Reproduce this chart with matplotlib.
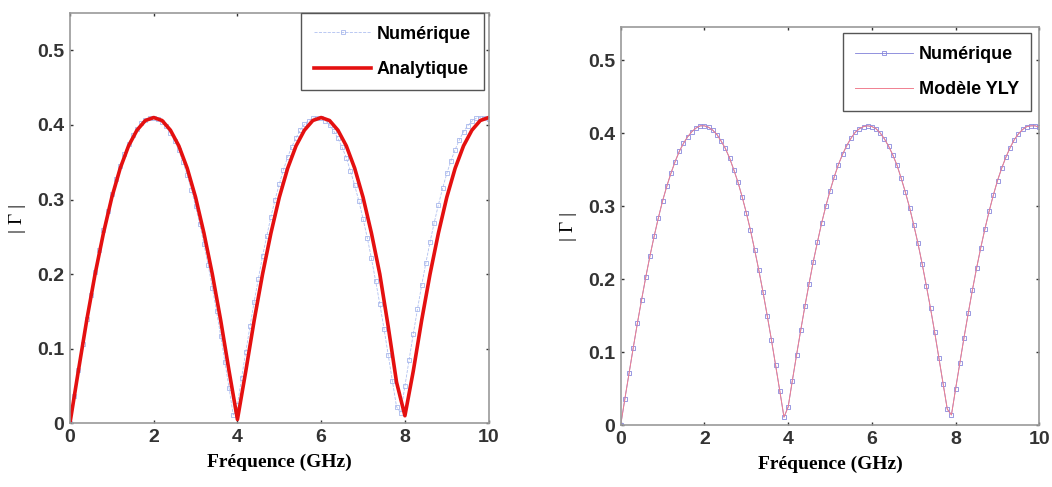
import numpy as np
import matplotlib
matplotlib.use("Agg")
from matplotlib import pyplot as plt

f_num = np.arange(0, 101) / 10.0
g_num = [0.000, 0.036, 0.071, 0.106, 0.140, 0.172, 0.203, 0.232, 0.259, 0.284,
         0.307, 0.327, 0.345, 0.361, 0.375, 0.386, 0.395, 0.402, 0.407, 0.410,
         0.410, 0.408, 0.404, 0.398, 0.389, 0.379, 0.366, 0.350, 0.333, 0.313,
         0.291, 0.267, 0.240, 0.212, 0.182, 0.150, 0.117, 0.082, 0.047, 0.011,
         0.025, 0.061, 0.096, 0.130, 0.163, 0.194, 0.224, 0.251, 0.277, 0.300,
         0.321, 0.340, 0.357, 0.371, 0.383, 0.393, 0.401, 0.406, 0.409, 0.410,
         0.409, 0.406, 0.400, 0.392, 0.382, 0.370, 0.356, 0.338, 0.319, 0.298,
         0.274, 0.249, 0.221, 0.191, 0.160, 0.127, 0.092, 0.057, 0.022, 0.014,
         0.050, 0.085, 0.120, 0.153, 0.185, 0.215, 0.243, 0.269, 0.293, 0.315,
         0.335, 0.352, 0.367, 0.380, 0.391, 0.399, 0.405, 0.409, 0.410, 0.410,
         0.408]

# analytic curve every 0.2 GHz
f_ana = np.arange(0, 51) / 5.0
g_ana = [0.000, 0.070, 0.138, 0.200, 0.255, 0.303, 0.342, 0.372, 0.393, 0.406,
         0.410, 0.406, 0.393, 0.372, 0.342, 0.303, 0.255, 0.200, 0.138, 0.070,
         0.005, 0.070, 0.138, 0.200, 0.255, 0.303, 0.342, 0.372, 0.393, 0.406,
         0.410, 0.406, 0.393, 0.372, 0.342, 0.303, 0.255, 0.200, 0.130, 0.055,
         0.010, 0.070, 0.138, 0.200, 0.255, 0.303, 0.342, 0.372, 0.393, 0.406,
         0.410]

xticks = [0, 2, 4, 6, 8, 10]
yticks = [0, 0.1, 0.2, 0.3, 0.4, 0.5]
yticklabels = ["0", "0.1", "0.2", "0.3", "0.4", "0.5"]

sans = ["Liberation Sans Narrow", "Liberation Sans", "DejaVu Sans"]
serif = ["Liberation Serif", "DejaVu Serif"]

fig = plt.figure(figsize=(10.52, 4.87), dpi=100)
ax1 = fig.add_axes([0.0665, 0.131, 0.398, 0.842])
ax2 = fig.add_axes([0.590, 0.127, 0.398, 0.817])


def style(ax, ytop):
    ax.set_xlim(0, 10)
    ax.set_ylim(0, ytop)
    ax.set_xticks(xticks)
    ax.set_yticks(yticks)
    ax.set_yticklabels(yticklabels)
    for lab in ax.get_xticklabels() + ax.get_yticklabels():
        lab.set_family(sans)
        lab.set_fontweight("bold")
        lab.set_fontsize(14)
    ax.tick_params(direction="in", length=2, width=1, top=True, right=True,
                   pad=4, colors="#333333")
    for s in ax.spines.values():
        s.set_color("#999999")
        s.set_linewidth(1.2)
    ax.set_xlabel("Fréquence (GHz)", family=serif, fontsize=14,
                  fontweight="bold", labelpad=6)
    ax.set_ylabel("| Γ |", family=serif, fontsize=14, labelpad=8)


legprops = dict(prop={"family": sans, "weight": "bold", "size": 13},
                fancybox=False, edgecolor="#555555", handlelength=3.2,
                borderpad=0.7, labelspacing=1.0, handletextpad=0.3,
                borderaxespad=0, framealpha=1)

# left panel
ax1.plot(f_num, g_num, color="#b0c0f0", lw=0.6, ls="--", marker="s",
         ms=3, mfc="none", mec="#a8b8ec", mew=0.6, label="Numérique")
ax1.plot(f_ana, g_ana, color="#e41010", lw=2.6, label="Analytique")
style(ax1, 0.55)
ax1.legend(loc="upper right", bbox_to_anchor=(0.988, 1.0), **legprops)

# right panel
ax2.plot(f_num, g_num, color="#8080d8", lw=0.6, marker="s",
         ms=3, mfc="none", mec="#8888dd", mew=0.6, label="Numérique")
ax2.plot(f_num, g_num, color="#f08090", lw=0.7, label="Modèle YLY")
style(ax2, 0.545)
ax2.legend(loc="upper right", bbox_to_anchor=(0.981, 0.985), **legprops)

plt.savefig("out.png", dpi=100)
